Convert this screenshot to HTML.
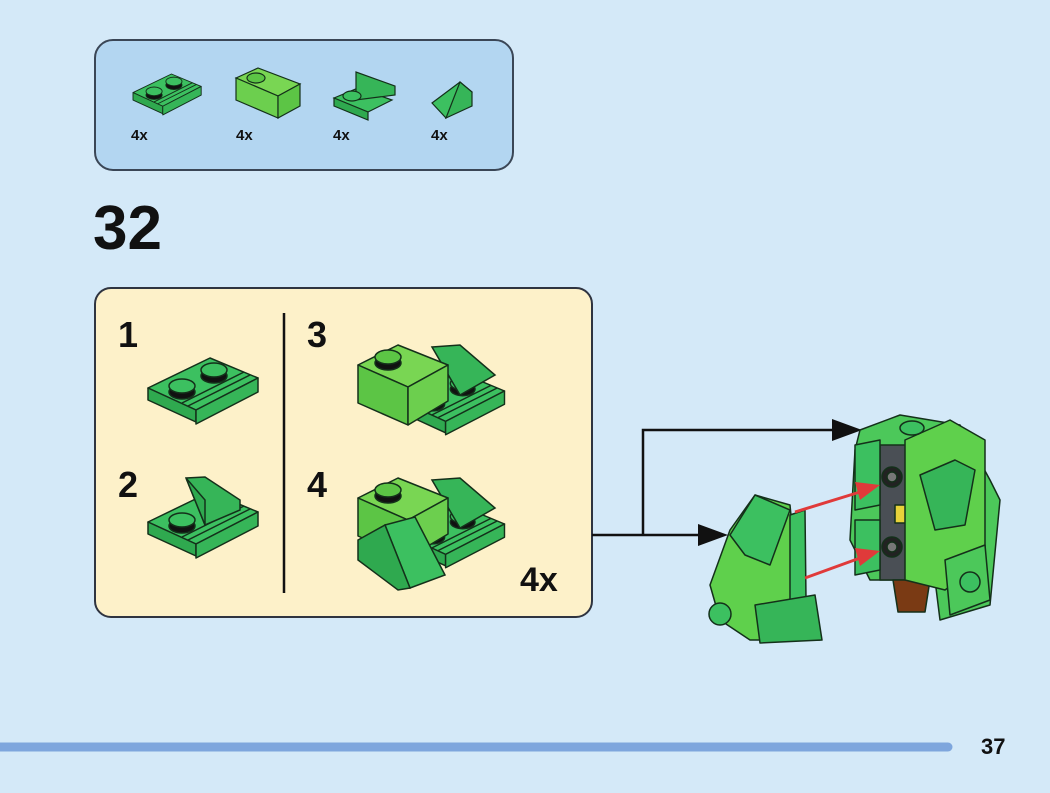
<!DOCTYPE html>
<html><head><meta charset="utf-8"><style>
html,body{margin:0;padding:0;background:#d4e9f8;}
svg{display:block;}
text{font-family:"Liberation Sans",sans-serif;font-weight:bold;fill:#111;}
</style></head><body>
<svg width="1050" height="793" viewBox="0 0 1050 793" xmlns="http://www.w3.org/2000/svg">
<defs>
<g id="plate" stroke="#14301a" stroke-width="1.5" stroke-linejoin="round">
 <polygon points="0,30 62,0 110,20 48,52" fill="#3cc060"/>
 <polygon points="0,30 48,52 48,64 0,42" fill="#2fa94f"/>
 <polygon points="48,52 110,20 110,34 48,66" fill="#36b558"/>
 <line x1="40" y1="48" x2="102" y2="17" stroke="#14301a"/>
 <line x1="34" y1="45" x2="96" y2="14" stroke="#14301a"/>
 <ellipse cx="34" cy="34" rx="13" ry="7" fill="#111"/>
 <ellipse cx="34" cy="28" rx="13" ry="7" fill="#3cc060"/>
 <ellipse cx="66" cy="18" rx="13" ry="7" fill="#111"/>
 <ellipse cx="66" cy="12" rx="13" ry="7" fill="#3cc060"/>
</g>
<g id="slope" stroke="#14301a" stroke-width="1.5" stroke-linejoin="round">
 <polygon points="0,10 20,0 58,22 38,34" fill="#3cc060"/>
 <polygon points="0,10 0,36 38,58 38,34" fill="#2fa94f"/>
 <polygon points="38,34 58,22 58,44 38,58" fill="#36b558"/>
</g>
<g id="brick" stroke="#14301a" stroke-width="1.5" stroke-linejoin="round">
 <polygon points="0,20 40,0 90,20 50,42" fill="#79d653"/>
 <polygon points="0,20 50,42 50,80 0,58" fill="#5cc545"/>
 <polygon points="50,42 90,20 90,56 50,80" fill="#6ccf4e"/>
 <ellipse cx="30" cy="18" rx="13" ry="7" fill="#111"/>
 <ellipse cx="30" cy="12" rx="13" ry="7" fill="#5cc545"/>
</g>
</defs>

<!-- parts box -->
<rect x="95" y="40" width="418" height="130" rx="18" fill="#b3d6f1" stroke="#3a4656" stroke-width="2"/>
<use href="#plate" transform="translate(133,74) scale(0.62)"/>
<g stroke="#14301a" stroke-width="1.2">
 <polygon points="236,78 258,68 300,84 278,96" fill="#79d653"/>
 <polygon points="236,78 278,96 278,118 236,100" fill="#6ccf4e"/>
 <polygon points="278,96 300,84 300,106 278,118" fill="#5cc545"/>
 <ellipse cx="256" cy="78" rx="9" ry="5" fill="#5cc545"/>
</g>
<g stroke="#14301a" stroke-width="1.2">
 <polygon points="334,98 358,88 392,100 368,112" fill="#3cc060"/>
 <polygon points="334,98 368,112 368,120 334,106" fill="#2fa94f"/>
 <polygon points="356,72 356,100 395,95 395,86" fill="#36b558"/>
 <ellipse cx="352" cy="96" rx="9" ry="5" fill="#3cc060"/>
</g>
<g stroke="#14301a" stroke-width="1.2">
 <polygon points="432,103 460,82 472,92 446,118" fill="#3cc060"/>
 <polygon points="460,82 472,92 472,106 446,118" fill="#36b558"/>
</g>
<text x="131" y="140" font-size="15">4x</text>
<text x="236" y="140" font-size="15">4x</text>
<text x="333" y="140" font-size="15">4x</text>
<text x="431" y="140" font-size="15">4x</text>

<text x="93" y="249" font-size="62">32</text>

<!-- sub-build box -->
<rect x="95" y="288" width="497" height="329" rx="16" fill="#fdf1c9" stroke="#2f3440" stroke-width="2"/>
<line x1="284" y1="313" x2="284" y2="593" stroke="#111" stroke-width="2.5"/>
<text x="118" y="347" font-size="36">1</text>
<text x="118" y="497" font-size="36">2</text>
<text x="307" y="347" font-size="36">3</text>
<text x="307" y="497" font-size="36">4</text>
<text x="520" y="591" font-size="34">4x</text>

<use href="#plate" transform="translate(148,358)"/>
<use href="#plate" transform="translate(148,492)"/>
<g stroke="#14301a" stroke-width="1.5"><polygon points="186,478 205,477 240,500 240,510 205,525" fill="#36b558"/><polygon points="186,478 205,525 205,500" fill="#2fa94f"/></g>

<!-- step 3 -->
<use href="#plate" transform="translate(400,372) scale(0.95)"/>
<g stroke="#14301a" stroke-width="1.5"><polygon points="432,347 460,345 495,375 460,395" fill="#36b558"/></g>
<use href="#brick" transform="translate(358,345)"/>
<!-- step 4 -->
<use href="#plate" transform="translate(400,505) scale(0.95)"/>
<g stroke="#14301a" stroke-width="1.5"><polygon points="432,480 460,478 495,508 460,528" fill="#36b558"/></g>
<use href="#brick" transform="translate(358,478)"/>
<g stroke="#14301a" stroke-width="1.5"><polygon points="385,525 415,517 445,575 410,588" fill="#3cc060"/><polygon points="358,540 385,525 410,588 398,590 358,560" fill="#2fa94f"/></g>

<!-- arrows -->
<g stroke="#111" stroke-width="2.5" fill="none">
 <polyline points="592,535 700,535"/>
 <polyline points="643,535 643,430 835,430"/>
</g>
<polygon points="698,524 728,535 698,546" fill="#111"/>
<polygon points="832,419 862,430 832,441" fill="#111"/>

<!-- assembled model right -->
<g stroke="#14301a" stroke-width="1.5" stroke-linejoin="round">
 <polygon points="860,430 900,415 960,425 990,480 1000,500 990,605 940,620 935,580 870,580 850,540 855,450" fill="#4cc85a"/>
 <polygon points="880,445 930,445 930,580 880,580" fill="#4a4f55"/>
 <circle cx="892" cy="477" r="10" fill="#222"/><circle cx="892" cy="477" r="5" fill="#777"/>
 <circle cx="892" cy="547" r="10" fill="#222"/><circle cx="892" cy="547" r="5" fill="#777"/>
 <rect x="895" y="505" width="15" height="18" fill="#e8d23a"/>
 <path d="M893,580 L930,580 L925,612 L898,612 Z" fill="#7a3a14"/>
 <polygon points="905,440 950,420 985,440 985,560 945,590 905,580" fill="#5fd04c"/>
 <polygon points="920,475 955,460 975,470 965,525 935,530" fill="#36b558"/>
 <polygon points="945,560 985,545 990,600 950,615" fill="#4cc85a"/>
 <circle cx="970" cy="582" r="10" fill="#3cc060"/>
 <polygon points="855,445 880,440 880,505 855,510" fill="#3cc060"/>
 <polygon points="855,520 880,520 880,570 855,575" fill="#3cc060"/>
 <ellipse cx="912" cy="428" rx="12" ry="7" fill="#3cc060"/>
</g>
<!-- detached part -->
<g stroke="#14301a" stroke-width="1.5" stroke-linejoin="round">
 <polygon points="730,530 755,495 790,505 800,610 820,640 750,640 720,620 710,585" fill="#5fd04c"/>
 <polygon points="730,535 755,495 790,510 770,565 745,555" fill="#3cc060"/>
 <polygon points="790,515 805,510 806,600 790,605" fill="#3cc060"/>
 <polygon points="755,605 815,595 822,640 760,643" fill="#36b558"/>
 <circle cx="720" cy="614" r="11" fill="#3cc060"/>
</g>
<!-- red arrows -->
<g stroke="#e03a3a" stroke-width="3"><line x1="795" y1="512" x2="860" y2="492"/><line x1="805" y1="578" x2="860" y2="558"/></g>
<polygon points="855,482 880,485 860,500" fill="#e03a3a"/>
<polygon points="855,548 880,551 860,566" fill="#e03a3a"/>

<!-- footer -->
<line x1="0" y1="747" x2="948" y2="747" stroke="#7ea6dd" stroke-width="9" stroke-linecap="round"/>
<text x="981" y="754" font-size="22">37</text>
</svg>
</body></html>
